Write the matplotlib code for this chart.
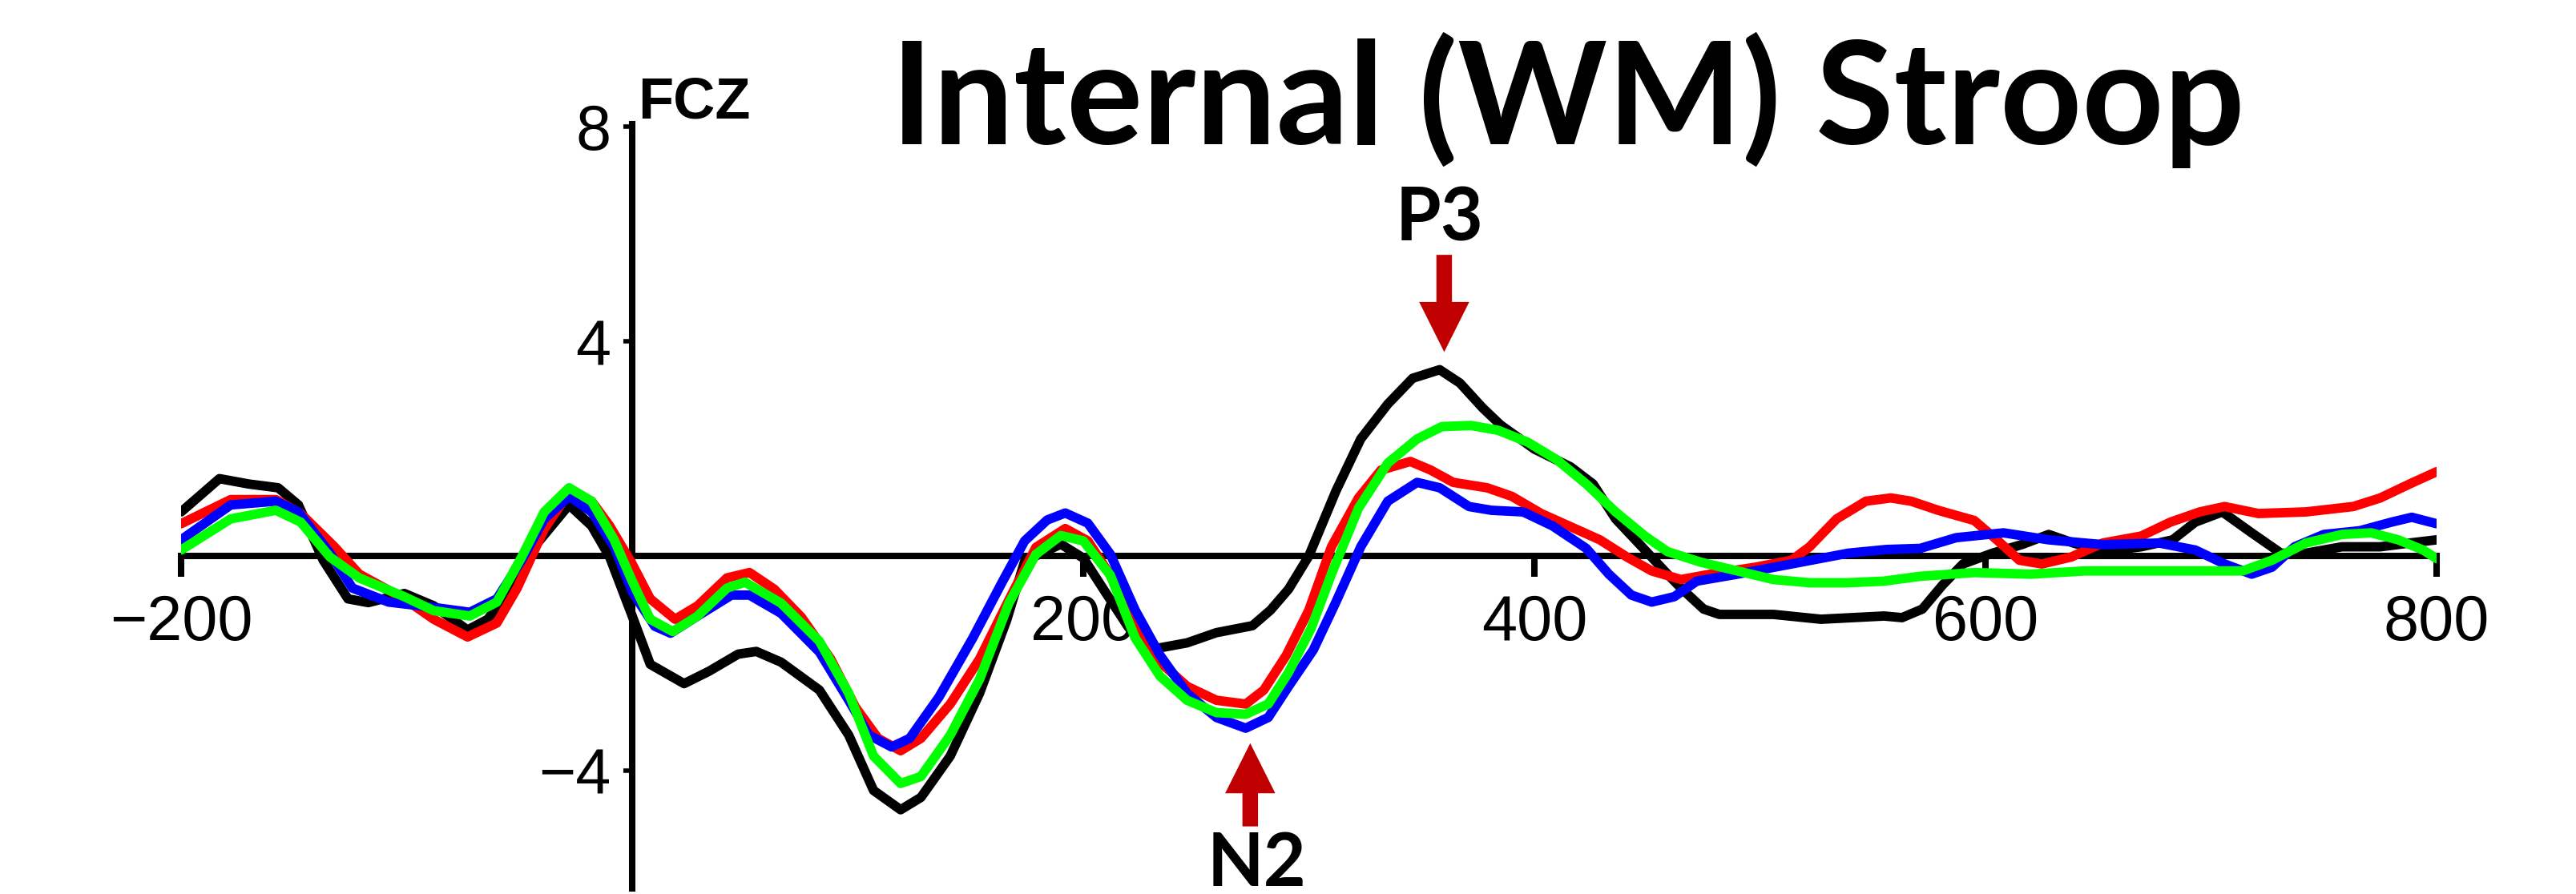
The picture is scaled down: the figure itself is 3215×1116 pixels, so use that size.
import matplotlib.pyplot as plt

# === DATA (FCZ) ===
black_ms = [-200, -183, -170, -157, -148, -137, -126, -117, -101, -88, -73, -64, -52, -42, -28, -18, -10,
            0, 8, 23, 34, 47, 55, 66, 83, 96, 107, 119, 128, 141, 154, 166, 174, 190, 200, 210, 220,
            233, 246, 259, 275, 283, 291, 300, 312, 323, 335, 346, 358, 367, 377, 385, 400, 416, 426,
            436, 449, 459, 465, 475, 482, 506, 527, 555, 563, 572, 581, 590, 603, 616, 628, 639, 652,
            669, 683, 693, 705, 718, 731, 742, 758, 775, 788, 800]
black_uv = [0.82, 1.44, 1.34, 1.27, 0.95, -0.08, -0.80, -0.87, -0.70, -0.93, -1.38, -1.18, -0.47, 0.24,
            0.95, 0.56, -0.02, -1.12, -2.02, -2.38, -2.15, -1.83, -1.78, -1.98, -2.50, -3.34, -4.37,
            -4.73, -4.50, -3.73, -2.56, -1.20, -0.10, 0.22, -0.04, -0.69, -1.33, -1.72, -1.62, -1.43,
            -1.30, -1.01, -0.62, 0.00, 1.21, 2.18, 2.83, 3.31, 3.47, 3.22, 2.76, 2.44, 1.99, 1.66, 1.34,
            0.69, 0.11, -0.34, -0.60, -0.99, -1.09, -1.09, -1.18, -1.12, -1.15, -0.99, -0.54, -0.15,
            0.05, 0.21, 0.40, 0.24, 0.08, 0.17, 0.30, 0.63, 0.82, 0.43, 0.05, 0.05, 0.17, 0.17, 0.24, 0.30]

red_ms = [-200, -178, -158, -147, -132, -121, -101, -88, -73, -60, -51, -39, -28, -18, -10, 0, 8, 19,
          29, 42, 52, 63, 75, 88, 99, 109, 119, 128, 141, 154, 167, 179, 192, 202, 212, 223, 234, 246,
          259, 272, 280, 290, 300, 310, 322, 332, 345, 354, 364, 379, 390, 403, 420, 429, 441, 452,
          465, 478, 498, 514, 522, 534, 547, 558, 567, 579, 595, 605, 615, 625, 638, 652, 669, 682,
          695, 706, 721, 742, 763, 775, 788, 800]
red_uv = [0.60, 1.05, 1.05, 0.79, 0.17, -0.34, -0.80, -1.18, -1.51, -1.25, -0.60, 0.50, 1.18, 1.02,
          0.56, -0.15, -0.80, -1.18, -0.93, -0.41, -0.31, -0.62, -1.14, -1.92, -2.82, -3.40, -3.63,
          -3.40, -2.76, -1.92, -0.82, 0.16, 0.51, 0.28, -0.36, -1.27, -1.98, -2.43, -2.69, -2.76,
          -2.50, -1.85, -1.01, 0.17, 1.08, 1.60, 1.76, 1.60, 1.37, 1.27, 1.11, 0.79, 0.47, 0.30, -0.02,
          -0.28, -0.44, -0.34, -0.21, -0.08, 0.17, 0.69, 1.02, 1.08, 1.02, 0.85, 0.66, 0.30, -0.08,
          -0.15, -0.02, 0.24, 0.37, 0.63, 0.82, 0.92, 0.79, 0.82, 0.92, 1.08, 1.34, 1.57]

blue_ms = [-200, -178, -158, -148, -134, -124, -108, -88, -72, -60, -49, -39, -28, -18, -8, 0, 10, 17,
           29, 44, 52, 66, 83, 96, 105, 115, 123, 136, 151, 164, 174, 184, 192, 202, 212, 223, 234,
           246, 259, 272, 282, 291, 302, 312, 323, 335, 348, 358, 371, 381, 395, 408, 423, 433, 443,
           452, 462, 472, 490, 514, 539, 556, 571, 587, 608, 628, 652, 677, 693, 706, 718, 727, 737,
           750, 766, 780, 789, 800]
blue_uv = [0.30, 0.95, 1.02, 0.82, 0.05, -0.60, -0.86, -0.96, -1.05, -0.80, -0.08, 0.69, 1.11, 0.82,
           0.17, -0.67, -1.31, -1.44, -1.12, -0.73, -0.73, -1.07, -1.79, -2.69, -3.34, -3.56, -3.40,
           -2.63, -1.53, -0.49, 0.28, 0.67, 0.80, 0.61, 0.03, -1.01, -1.85, -2.56, -3.01, -3.21,
           -3.01, -2.43, -1.75, -0.86, 0.17, 1.02, 1.37, 1.27, 0.92, 0.85, 0.82, 0.56, 0.14, -0.34,
           -0.73, -0.86, -0.76, -0.47, -0.34, -0.15, 0.05, 0.12, 0.14, 0.34, 0.43, 0.30, 0.21, 0.24,
           0.11, -0.15, -0.34, -0.21, 0.17, 0.40, 0.47, 0.63, 0.72, 0.60]

green_ms = [-200, -178, -158, -147, -134, -121, -101, -88, -72, -60, -49, -39, -28, -18, -8, 0, 8, 18,
            29, 42, 50, 66, 83, 96, 107, 119, 128, 141, 154, 167, 179, 190, 200, 212, 223, 234, 246,
            259, 272, 282, 291, 301, 310, 322, 335, 348, 359, 372, 384, 397, 410, 423, 436, 449, 459,
            474, 490, 506, 522, 539, 555, 571, 595, 620, 644, 669, 693, 714, 727, 742, 758, 771, 783,
            794, 800]
green_uv = [0.11, 0.69, 0.85, 0.63, -0.02, -0.41, -0.76, -1.02, -1.12, -0.86, -0.02, 0.82, 1.27, 1.02,
            0.30, -0.47, -1.18, -1.41, -1.12, -0.60, -0.49, -0.88, -1.59, -2.56, -3.73, -4.24, -4.11,
            -3.34, -2.30, -0.88, 0.03, 0.38, 0.28, -0.36, -1.53, -2.24, -2.69, -2.92, -2.95, -2.76,
            -2.17, -1.35, -0.34, 0.89, 1.73, 2.18, 2.41, 2.43, 2.34, 2.12, 1.79, 1.34, 0.82, 0.37, 0.08,
            -0.12, -0.28, -0.44, -0.50, -0.50, -0.47, -0.38, -0.31, -0.34, -0.28, -0.28, -0.28, -0.28,
            -0.08, 0.24, 0.40, 0.43, 0.30, 0.11, -0.05]

xtick_vals = [-200, 200, 400, 600, 800]
xtick_labels = ['\u2212200', '200', '400', '600', '800']
ytick_vals = [8, 4, -4]
ytick_labels = ['8', '4', '\u22124']

# peak markers: (ms, tip, tail) in data units
p3_ms, p3_tip, p3_tail = 360, 3.8, 5.61
n2_ms, n2_tip, n2_tail = 274, -3.49, -5.04

# === PLOT ===
fig = plt.figure(figsize=(32.15, 11.16), dpi=100)
ax = fig.add_axes([0.0703, 0.0, 0.8756, 0.8884])
ax.patch.set_visible(False)
ax.set_xlim(-200, 800)
ax.set_ylim(-6.3, 8.5)

for ms, uv, c in [(black_ms, black_uv, '#000000'), (red_ms, red_uv, '#ff0000'),
                  (blue_ms, blue_uv, '#0000ff'), (green_ms, green_uv, '#00ff00')]:
    ax.plot(ms, uv, color=c, lw=8.5, solid_joinstyle='round', solid_capstyle='round', zorder=3)

for s in ['top', 'right']:
    ax.spines[s].set_visible(False)
ax.spines['left'].set_position(('data', 0))
ax.spines['bottom'].set_position(('data', 0))
ax.spines['left'].set_bounds(-6.2, 8.05)
ax.spines['bottom'].set_bounds(-200, 800)
ax.spines['left'].set_linewidth(5.8)
ax.spines['bottom'].set_linewidth(5.8)

ax.set_xticks(xtick_vals)
ax.set_xticklabels(xtick_labels, family='Liberation Sans')
ax.set_yticks(ytick_vals)
ax.set_yticklabels(ytick_labels, family='Liberation Sans')
ax.tick_params(axis='x', direction='out', length=19, width=5.8, pad=15, labelsize=57)
ax.tick_params(axis='y', direction='out', length=8, width=4, pad=11, labelsize=57)

arrow_style = 'simple,head_length=45,head_width=45,tail_width=14'
for ms, tip, tail in [(p3_ms, p3_tip, p3_tail), (n2_ms, n2_tip, n2_tail)]:
    ax.annotate('', xy=(ms, tip), xytext=(ms, tail),
                arrowprops=dict(arrowstyle=arrow_style, mutation_scale=1, color='#c00000',
                                lw=0, shrinkA=0, shrinkB=0))

ax.text(358, 5.87, 'P3', ha='center', va='baseline', fontsize=66, fontweight='bold', family='Lato')
ax.text(277, -6.15, 'N2', ha='center', va='baseline', fontsize=66, fontweight='bold', family='Lato')

fig.text(0.6085, 0.8387, 'Internal (WM) Stroop', ha='center', va='baseline',
         fontsize=128, fontweight='bold', family='Lato')
fig.text(0.2476, 0.8674, 'FCZ', ha='left', va='baseline', fontsize=52, fontweight='bold',
         family='Liberation Sans')

fig.savefig('out.png', dpi=100)
